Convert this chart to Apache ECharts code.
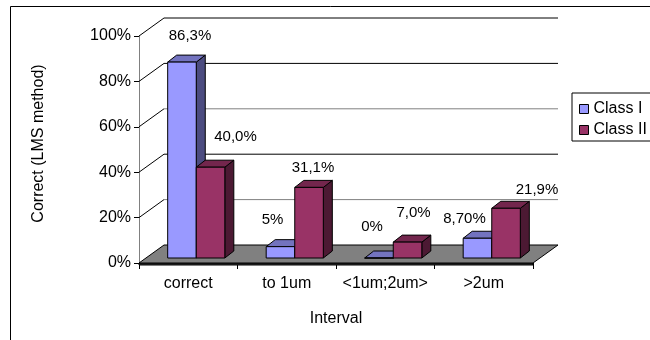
<!DOCTYPE html>
<html>
<head>
<meta charset="utf-8">
<script src="https://cdn.jsdelivr.net/npm/echarts@6/dist/echarts.min.js"></script>
<style>
  html, body { margin: 0; padding: 0; background: #fff; }
  #chart { width: 650px; height: 340px; }
</style>
</head>
<body>
<div id="chart"></div>
<script>
// Share of correct results per interval, two classes
const categories = ['correct', 'to 1um', '<1um;2um>', '>2um'];
const classI = [86.3, 5, 0, 8.7];
const classII = [40.0, 31.1, 7.0, 21.9];
const classILabels = ['86,3%', '5%', '0%', '8,70%'];
const classIILabels = ['40,0%', '31,1%', '7,0%', '21,9%'];
const yTicks = [0, 20, 40, 60, 80, 100];

const FONT = '"Liberation Sans", Arial, sans-serif';

// 3D look: depth of the back wall and of each bar
const WALL_DX = 25, WALL_DY = -18;
const BAR_SHIFT_X = 8, BAR_SHIFT_Y = -5;
const BAR_DX = 9, BAR_DY = -7;
const BAR_FRAC = 0.29;

// label nudges relative to the top-front centre of each bar
const labelNudgeI = [[8, -26], [-8, -27], [-7, -31], [-13, -19]];
const labelNudgeII = [[25, -30], [4, -20], [6, -29], [31, -18]];

// wall line tones for each tick level
const wallTone = { 20: '#808080', 40: '#000', 60: '#808080', 80: '#000', 100: '#000' };

const faces = {
  I: { front: '#9999FF', top: '#7373BF', side: '#4C4C80' },
  II: { front: '#993366', top: '#73264D', side: '#4C1933' }
};

function wallItem(params, api) {
  const v = api.value(1);
  const cs = params.coordSys;
  const x0 = cs.x, w = cs.width;
  const y = api.coord([0, v])[1];
  if (v === 0) {
    const pts = [[x0, y], [x0 + w, y], [x0 + w + WALL_DX, y + WALL_DY], [x0 + WALL_DX, y + WALL_DY]];
    return {
      type: 'group',
      children: [
        { type: 'polygon', shape: { points: [[x0, y], [x0 + w, y], [x0 + w, y + 2], [x0, y + 2]] },
          style: { fill: '#333', stroke: '#000', lineWidth: 1 } },
        { type: 'polygon', shape: { points: pts }, style: { fill: '#808080', stroke: '#000', lineWidth: 1 } }
      ]
    };
  }
  const tone = wallTone[v] || '#000';
  return {
    type: 'group',
    children: [
      { type: 'line', shape: { x1: x0, y1: y, x2: x0 + WALL_DX, y2: y + WALL_DY },
        style: { stroke: '#000', lineWidth: 1 } },
      { type: 'line', shape: { x1: x0 + WALL_DX, y1: y + WALL_DY, x2: x0 + w + WALL_DX, y2: y + WALL_DY },
        style: { stroke: tone, lineWidth: 1 } }
    ]
  };
}

function barRenderer(which, labels, nudges) {
  const col = faces[which];
  return function (params, api) {
    const idx = api.value(0);
    const val = api.value(1);
    const base = api.coord([idx, 0]);
    const top = api.coord([idx, val]);
    const band = api.size([1, 0])[0];
    const bw = band * BAR_FRAC;
    const cx = base[0] + BAR_SHIFT_X;
    const x = which === 'I' ? cx - bw : cx;
    const yb = base[1] + BAR_SHIFT_Y;
    const yt = top[1] + BAR_SHIFT_Y;
    const stroke = { stroke: '#000', lineWidth: 1, lineJoin: 'round' };
    const nd = nudges[params.dataIndex];
    return {
      type: 'group',
      children: [
        { type: 'polygon',
          shape: { points: [[x + bw, yt], [x + bw + BAR_DX, yt + BAR_DY], [x + bw + BAR_DX, yb + BAR_DY], [x + bw, yb]] },
          style: Object.assign({ fill: col.side }, stroke) },
        { type: 'polygon',
          shape: { points: [[x, yt], [x + bw, yt], [x + bw + BAR_DX, yt + BAR_DY], [x + BAR_DX, yt + BAR_DY]] },
          style: Object.assign({ fill: col.top }, stroke) },
        { type: 'rect', shape: { x: x, y: yt, width: bw, height: yb - yt },
          style: Object.assign({ fill: col.front }, stroke) },
        { type: 'text', x: x + bw / 2 + nd[0], y: yt + nd[1],
          style: { text: labels[params.dataIndex], fill: '#000', font: '15px ' + FONT,
                   align: 'center', verticalAlign: 'middle' } }
      ]
    };
  };
}

const chart = echarts.init(document.getElementById('chart'), null, { renderer: 'canvas' });

chart.setOption({
  animation: false,
  backgroundColor: '#fff',
  textStyle: { fontFamily: FONT, color: '#000' },
  graphic: [{
    type: 'rect', silent: true, z: -10,
    shape: { x: 10.5, y: 6.5, width: 700, height: 400 },
    style: { fill: 'none', stroke: '#000', lineWidth: 1 }
  }],
  grid: { left: 139, right: 117, top: 36, bottom: 77, containLabel: false },
  legend: {
    orient: 'vertical',
    left: 572, top: 93,
    padding: [8, 16, 3, 7],
    itemGap: 5,
    itemWidth: 9, itemHeight: 9,
    borderColor: '#000', borderWidth: 1,
    backgroundColor: '#fff',
    textStyle: { fontSize: 16, fontFamily: FONT, color: '#000' },
    itemStyle: { borderColor: '#000', borderWidth: 1 },
    data: [
      { name: 'Class I', icon: 'rect' },
      { name: 'Class II', icon: 'rect' }
    ]
  },
  xAxis: {
    type: 'category',
    data: categories,
    name: 'Interval',
    nameLocation: 'middle',
    nameGap: 48,
    nameTextStyle: { fontSize: 16, fontFamily: FONT, color: '#000' },
    axisLine: { show: true, lineStyle: { color: '#000', width: 1 } },
    axisTick: { show: true, length: 6, alignWithLabel: false, interval: 0, lineStyle: { color: '#000' } },
    axisLabel: { fontSize: 16, fontFamily: FONT, color: '#000', margin: 13, interval: 0 },
    splitLine: { show: false }
  },
  yAxis: {
    type: 'value',
    min: 0, max: 100, interval: 20,
    name: 'Correct (LMS method)',
    nameLocation: 'middle',
    nameRotate: 90,
    nameGap: 92,
    nameTextStyle: { fontSize: 16, fontFamily: FONT, color: '#000', padding: [0, 0, 0, 12] },
    axisLine: { show: true, lineStyle: { color: '#808080', width: 1 } },
    axisTick: { show: true, length: 5, lineStyle: { color: '#000' } },
    axisLabel: { fontSize: 16, fontFamily: FONT, color: '#000', margin: 8, formatter: '{value}%' },
    splitLine: { show: false }
  },
  series: [
    {
      type: 'custom',
      name: 'wall',
      z: 1,
      silent: true,
      renderItem: wallItem,
      encode: { x: 0, y: 1 },
      data: yTicks.map(v => [0, v])
    },
    {
      type: 'custom',
      name: 'Class I',
      z: 3,
      itemStyle: { color: faces.I.front },
      renderItem: barRenderer('I', classILabels, labelNudgeI),
      encode: { x: 0, y: 1 },
      data: classI.map((v, i) => [i, v])
    },
    {
      type: 'custom',
      name: 'Class II',
      z: 4,
      itemStyle: { color: faces.II.front },
      renderItem: barRenderer('II', classIILabels, labelNudgeII),
      encode: { x: 0, y: 1 },
      data: classII.map((v, i) => [i, v])
    }
  ]
});
</script>
</body>
</html>
